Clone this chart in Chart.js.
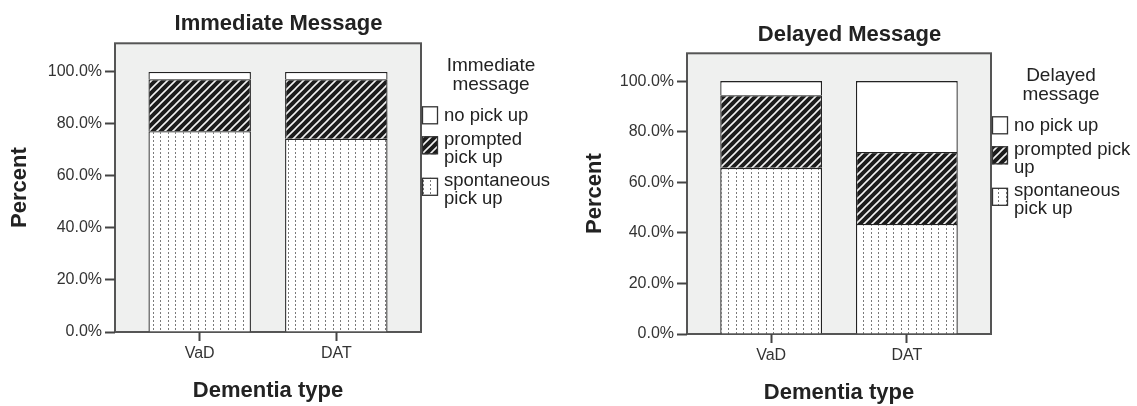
<!DOCTYPE html>
<html>
<head>
<meta charset="utf-8">
<title>Immediate and Delayed Message</title>
<script src="https://cdn.jsdelivr.net/npm/chart.js"></script>
<style>
  body { margin: 0; background: #fff; }
  .wrap { position: absolute; top: 0; height: 406px; }
  #leftWrap { left: 0; width: 568px; }
  #rightWrap { left: 568px; width: 569px; }
</style>
</head>
<body>
<div class="wrap" id="leftWrap"><canvas id="immediateChart" width="568" height="406"></canvas></div>
<div class="wrap" id="rightWrap"><canvas id="delayedChart" width="569" height="406"></canvas></div>
<script>
// categories and series (percent of each dementia type)
const dementiaTypes = ['VaD', 'DAT'];
const seriesLabels = ['spontaneous pick up', 'prompted pick up', 'no pick up'];

const immediateSpontaneous = [77.2, 74.3];
const immediatePrompted = [20.0, 22.9];
const immediateNoPickUp = [2.8, 2.8];

const delayedSpontaneous = [65.7, 43.5];
const delayedPrompted = [28.7, 28.5];
const delayedNoPickUp = [5.6, 28.0];

const percentTicks = [0, 20, 40, 60, 80, 100];

// legend text, wrapped the way each chart shows it (same order as seriesLabels)
const immediateLegendLines = [['spontaneous', 'pick up'], ['prompted', 'pick up'], ['no pick up']];
const delayedLegendLines = [['spontaneous', 'pick up'], ['prompted pick', 'up'], ['no pick up']];

const FONT = "'Liberation Sans', Arial, sans-serif";
Chart.defaults.font.family = FONT;
Chart.defaults.color = '#333';

function dotPattern(ctx) {
  const c = document.createElement('canvas');
  c.width = 15; c.height = 4;
  const g = c.getContext('2d');
  g.fillStyle = '#fff';
  g.fillRect(0, 0, 15, 4);
  g.fillStyle = '#7a7a7a';
  g.fillRect(3, 0, 1, 2);
  g.fillRect(10, 0, 1, 2);
  return ctx.createPattern(c, 'repeat');
}

function stripePattern(ctx) {
  const c = document.createElement('canvas');
  c.width = 8; c.height = 8;
  const g = c.getContext('2d');
  g.fillStyle = '#1c1c1c';
  g.fillRect(0, 0, 8, 8);
  g.strokeStyle = '#f2f2f2';
  g.lineWidth = 1.6;
  g.beginPath();
  g.moveTo(-2, 10); g.lineTo(10, -2);
  g.moveTo(-2, 2); g.lineTo(2, -2);
  g.moveTo(6, 10); g.lineTo(10, 6);
  g.stroke();
  return ctx.createPattern(c, 'repeat');
}

// grey plot panel with dark frame
const plotFrame = {
  id: 'plotFrame',
  beforeDraw(chart) {
    const { ctx, chartArea: a } = chart;
    ctx.save();
    ctx.fillStyle = '#eff0ef';
    ctx.fillRect(a.left, a.top, a.width, a.height);
    ctx.strokeStyle = '#555';
    ctx.lineWidth = 2;
    ctx.strokeRect(a.left, a.top, a.width, a.height);
    ctx.restore();
  }
};

// legend on the right, takes its own layout box so the title stays centred
const sideLegend = {
  id: 'sideLegend',
  beforeInit(chart) {
    const box = {
      position: 'right', weight: 500, fullSize: false,
      options: { stackWeight: 1 },
      left: 0, top: 0, right: 0, bottom: 0, width: 0, height: 0,
      isHorizontal() { return false; },
      getPadding() { return { top: 0, left: 0, right: 0, bottom: 0 }; },
      update(maxWidth, maxHeight) {
        this.width = chart.options.plugins.sideLegend.width;
        this.height = maxHeight;
      },
      draw() {}
    };
    Chart.layouts.addBox(chart, box);
    chart.$sideLegend = box;
  },
  afterDraw(chart, args, opts) {
    const { ctx, chartArea } = chart;
    const x0 = chart.$sideLegend.left;
    const ds = chart.data.datasets;
    ctx.save();
    ctx.textBaseline = 'middle';
    ctx.fillStyle = '#222';
    ctx.font = '19px ' + FONT;
    ctx.textAlign = 'center';
    opts.title.forEach((line, i) => ctx.fillText(line, x0 + 70, chartArea.top + 22 + i * 19.5));

    ctx.font = '18.5px ' + FONT;
    ctx.textAlign = 'left';
    let y = chartArea.top + 73;
    for (let k = ds.length - 1; k >= 0; k--) {
      const lines = opts.lines[k];
      const cy = y + (lines.length - 1) * 6.5 - 1;
      ctx.fillStyle = ds[k].backgroundColor;
      ctx.fillRect(x0 + 1, cy - 9, 16, 18);
      ctx.strokeStyle = '#333';
      ctx.lineWidth = 1.3;
      ctx.strokeRect(x0 + 1.5, cy - 8.5, 15, 17);
      ctx.fillStyle = '#222';
      lines.forEach((line, i) => ctx.fillText(line, x0 + 23, y + i * 18));
      y += lines.length * 18 + 5.5;
    }
    ctx.restore();
  }
};

function makeChart(canvasId, cfg) {
  const ctx = document.getElementById(canvasId).getContext('2d');
  const fills = [dotPattern(ctx), stripePattern(ctx), '#ffffff'];
  const toPoints = (arr) => arr.map((v, i) => ({ x: i, y: v }));

  return new Chart(ctx, {
    type: 'bar',
    data: {
      datasets: cfg.series.map((values, k) => ({
        label: seriesLabels[k],
        data: toPoints(values),
        backgroundColor: fills[k],
        borderColor: '#222',
        borderWidth: 1.3,
        barPercentage: 0.75,
        categoryPercentage: 1
      }))
    },
    options: {
      responsive: false,
      animation: false,
      events: [],
      layout: { padding: { left: cfg.padLeft, right: cfg.padRight, top: 0, bottom: 0 } },
      plugins: {
        legend: { display: false },
        tooltip: { enabled: false },
        title: {
          display: true,
          text: cfg.title,
          color: '#222',
          font: { size: 22, weight: 'bold' },
          padding: { top: cfg.titleTop, bottom: cfg.titleBottom }
        },
        sideLegend: { width: cfg.legendWidth, title: cfg.legendTitle, lines: cfg.legendLines }
      },
      scales: {
        x: {
          type: 'linear',
          stacked: true,
          offset: false,
          min: -0.62,
          max: 1.62,
          afterBuildTicks: (s) => { s.ticks = dementiaTypes.map((_, i) => ({ value: i })); },
          ticks: {
            callback: (v) => dementiaTypes[v],
            color: '#333',
            font: { size: 16 },
            padding: 3,
            autoSkip: false,
            maxRotation: 0
          },
          grid: { display: true, offset: false, drawOnChartArea: false, drawTicks: true, tickLength: 9, tickWidth: 2, tickColor: '#444' },
          border: { display: false },
          title: {
            display: true,
            text: 'Dementia type',
            color: '#222',
            font: { size: 22, weight: 'bold' },
            padding: { top: cfg.xTitleTop, bottom: cfg.xTitleBottom }
          }
        },
        y: {
          stacked: true,
          min: 0,
          max: 111,
          afterBuildTicks: (s) => { s.ticks = percentTicks.map((v) => ({ value: v })); },
          afterFit: (s) => { s.width = cfg.yAxisWidth; },
          ticks: {
            callback: (v) => v.toFixed(1) + '%',
            color: '#333',
            font: { size: 16 },
            padding: 3
          },
          grid: { display: true, drawOnChartArea: false, drawTicks: true, tickLength: 10, tickWidth: 2, tickColor: '#444' },
          border: { display: false },
          title: {
            display: true,
            text: 'Percent',
            color: '#222',
            font: { size: 22, weight: 'bold' },
            padding: { top: 0, bottom: 0 }
          }
        }
      }
    },
    plugins: [plotFrame, sideLegend]
  });
}

makeChart('immediateChart', {
  title: 'Immediate Message',
  series: [immediateSpontaneous, immediatePrompted, immediateNoPickUp],
  legendTitle: ['Immediate', 'message'],
  legendLines: immediateLegendLines,
  padLeft: 7, padRight: 18, legendWidth: 129, yAxisWidth: 108,
  titleTop: 10.8, titleBottom: 6.1,
  xTitleTop: 11.6, xTitleBottom: 1.8
});

makeChart('delayedChart', {
  title: 'Delayed Message',
  series: [delayedSpontaneous, delayedPrompted, delayedNoPickUp],
  legendTitle: ['Delayed', 'message'],
  legendLines: delayedLegendLines,
  padLeft: 14, padRight: 20, legendWidth: 126, yAxisWidth: 105,
  titleTop: 21.5, titleBottom: 5.4,
  xTitleTop: 11.4, xTitleBottom: 0
});
</script>
</body>
</html>
